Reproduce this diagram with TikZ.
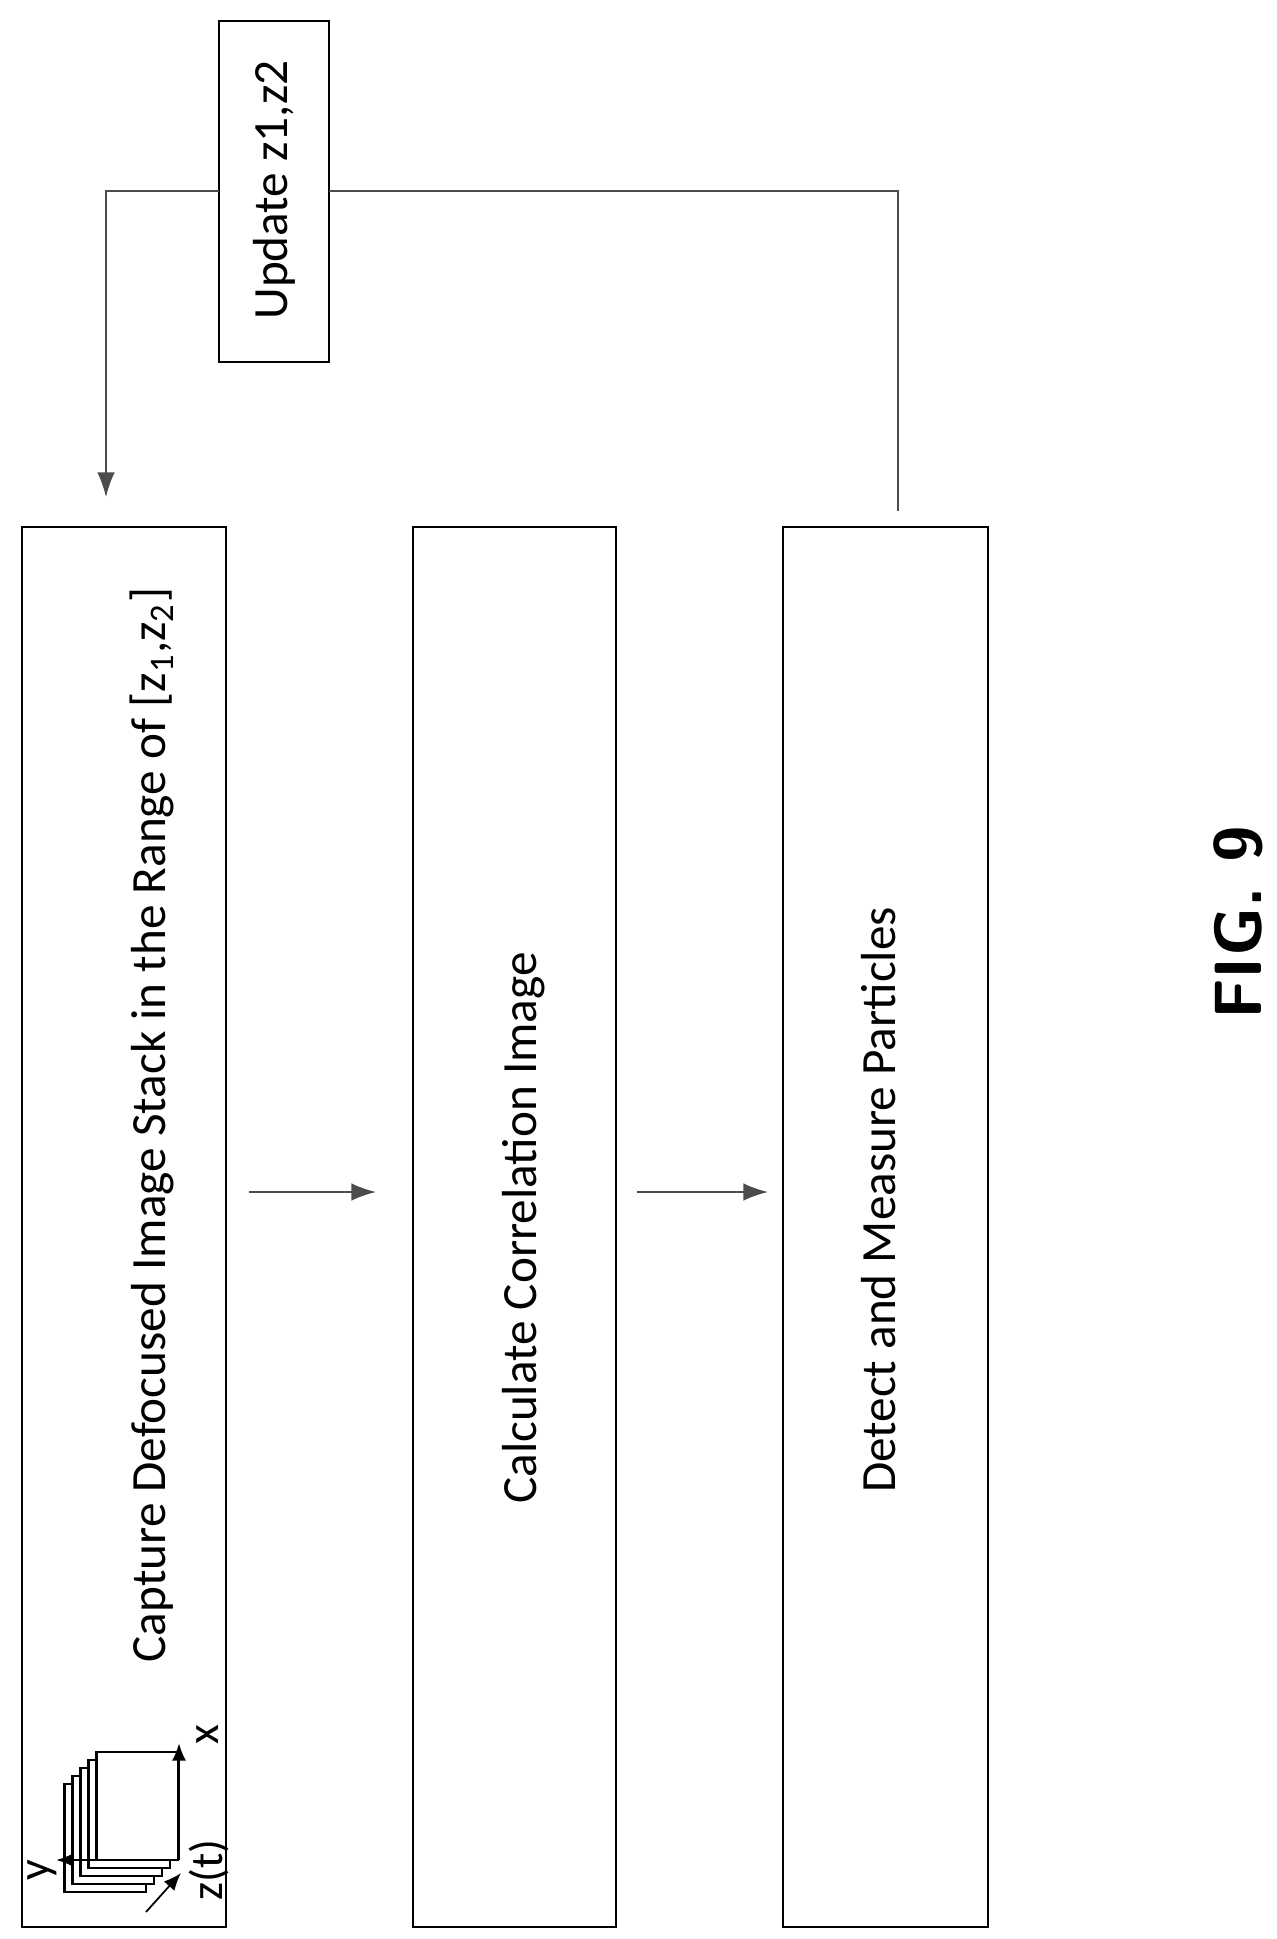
\documentclass[tikz,border=0pt]{standalone}
\usepackage{fontspec}
\setmainfont{Carlito}
\usetikzlibrary{arrows.meta}
\begin{document}
\begin{tikzpicture}[x=0.01cm,y=-0.01cm,
  box/.style={draw,line width=0.8pt},
  lbl/.style={font=\fontsize{14}{16}\selectfont,rotate=90},
  conn/.style={line width=0.5pt,draw=black!70},
  arr/.style={conn,-{Latex[length=7pt,width=5pt]}}]
\useasboundingbox (0,0) rectangle (1277,1939);
\draw[box] (22,527) rectangle (226,1927);
\draw[box] (413,527) rectangle (616,1927);
\draw[box] (783,527) rectangle (988,1927);
\draw[box] (219,21) rectangle (329,362);
\node[lbl] (t1) at (152,1125) {Capture Defocused Image Stack in the Range of [z\textsubscript{1},z\textsubscript{2}]};
\node[lbl] (t2) at (524,1228) {Calculate Correlation Image};
\node[lbl] (t3) at (879,1200) {Detect and Measure Particles};
\node[lbl] (up) at (274,190) {Update z1,z2};
\node[rotate=90,font=\sffamily\bfseries\fontsize{19}{21}\selectfont] (fig) at (1238,923) {FIG. 9};
\coordinate (a1) at (106,191); \coordinate (a2) at (106,497);
\coordinate (b1) at (898,191); \coordinate (b2) at (898,511);
\draw[arr] (219,191) -- (a1) -- (a2);
\draw[conn] (329,191) -- (b1) -- (b2);
\draw[arr] (249,1192) -- (376,1192);
\draw[arr] (637,1192) -- (768,1192);
% stack icon
\foreach \i in {4,3,2,1,0}{
  \draw[fill=white,line width=0.7pt] (96.7-8*\i,1752+8*\i) rectangle (178-8*\i,1860+8*\i);}
\draw[line width=0.7pt,-{Latex[length=5pt,width=4pt]}] (179,1860) -- (179,1743);
\draw[line width=0.7pt,-{Latex[length=5pt,width=4pt]}] (179,1860) -- (56,1860);
\draw[line width=0.5pt,-{Latex[length=5pt,width=4pt]}] (146,1912) -- (181,1873);
\node[rotate=90,font=\fontsize{13}{14}\selectfont] (xl) at (208,1735) {x};
\node[rotate=90,font=\fontsize{13}{14}\selectfont] (yl) at (42,1870) {y};
\node[rotate=90,font=\fontsize{13}{14}\selectfont] (zl) at (209,1870) {z(t)};
\end{tikzpicture}
\end{document}
